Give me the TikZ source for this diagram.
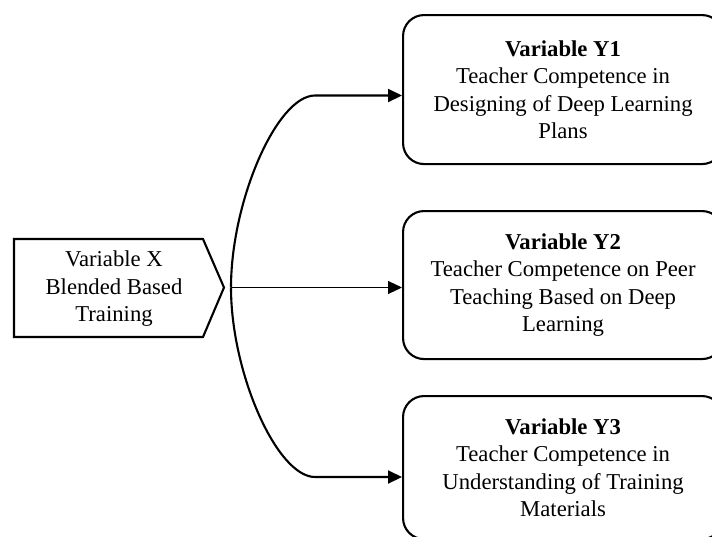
\documentclass[tikz,border=0pt]{standalone}
\usepackage{fontspec}
\setmainfont{Liberation Serif}
\usetikzlibrary{arrows.meta}
\begin{document}
\begin{tikzpicture}[x=1pt,y=-1pt,
  conn/.style={line width=2.1pt,-{Triangle[length=14pt,width=13pt]}},
  thinconn/.style={line width=1pt,-{Triangle[length=14pt,width=13pt]}},
  ybox/.style={draw,line width=2.1pt,rounded corners=21pt,minimum width=320pt,anchor=north west,align=center,font=\fontsize{22.7}{27.5}\selectfont,inner sep=0pt},
  xtext/.style={align=center,font=\fontsize{22.7}{27.5}\selectfont,inner sep=0pt}]
\clip (0,0) rectangle (712,536);
\node[ybox,minimum height=149pt] (y1) at (402,14) {\textbf{Variable Y1}\\Teacher Competence in\\Designing of Deep Learning\\Plans};
\node[ybox,minimum height=148pt] (y2) at (402,210) {\textbf{Variable Y2}\\Teacher Competence on Peer\\Teaching Based on Deep\\Learning};
\node[ybox,minimum height=143pt] (y3) at (402,395) {\textbf{Variable Y3}\\Teacher Competence in\\Understanding of Training\\Materials};
\draw[line width=2.1pt] (14,239) -- (203,239) -- (224,287.5) -- (203,337) -- (14,337) -- cycle;
\node[xtext] (x) at (114,289) {Variable X\\Blended Based\\Training};
\coordinate (hub) at (231,287.5);
\coordinate (top) at (315,95.5);
\coordinate (bot) at (315,477);
\draw[conn] (hub) .. controls (231,201) and (277,95.5) .. (top) -- (top -| y1.west);
\draw[conn] (hub) .. controls (231,373) and (277,477) .. (bot) -- (bot -| y3.west);
\draw[thinconn] (hub) -- (hub -| y2.west);
\end{tikzpicture}
\end{document}
